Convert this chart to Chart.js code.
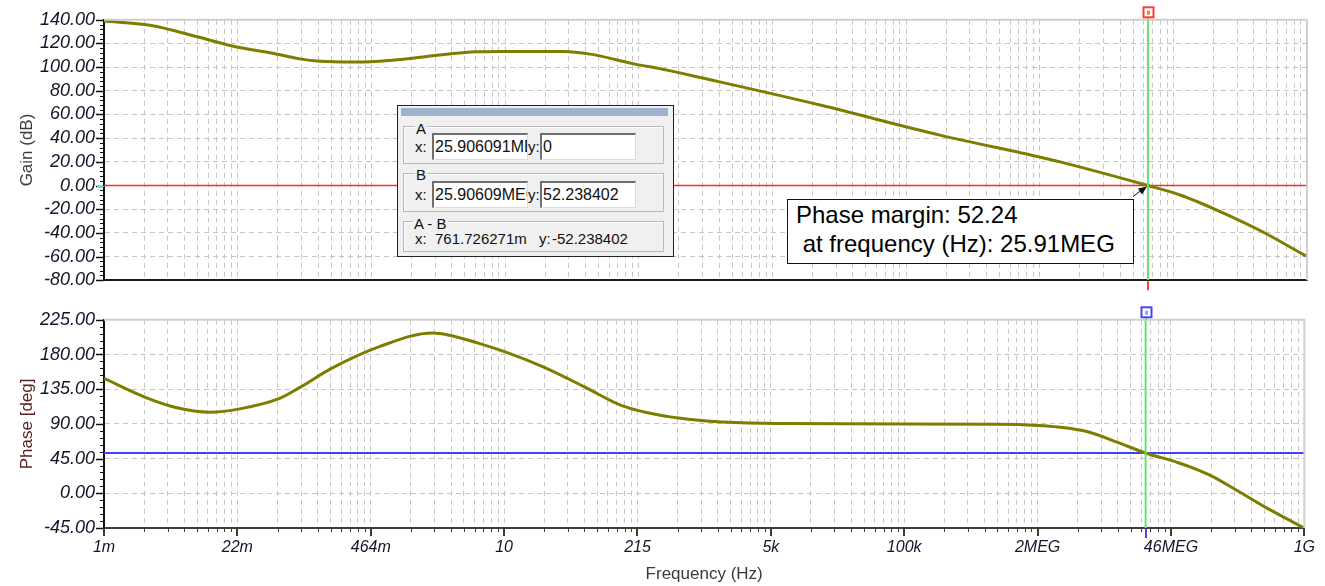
<!DOCTYPE html>
<html>
<head>
<meta charset="utf-8">
<script src="https://cdn.jsdelivr.net/npm/chart.js@4.4.1/dist/chart.umd.min.js"></script>
<style>
body { margin: 0; background: #fff; width: 1325px; height: 586px; overflow: hidden; position: relative; font-family: Arial, 'Liberation Sans', sans-serif; }
#gainWrap { position: absolute; left: 0; top: 0; width: 1325px; height: 300px; }
#phaseWrap { position: absolute; left: 0; top: 300px; width: 1325px; height: 286px; }
#cursorWin { position: absolute; left: 397px; top: 105px; width: 277px; height: 152px; box-sizing: border-box; background: #f0f0f0; border: 1px solid #222; font-size: 15px; color: #111; }
#cursorWin .bar { position: absolute; left: 3px; top: 2px; width: 267px; height: 8px; background: #9db3cf; }
#cursorWin .grp { position: absolute; left: 5px; width: 261px; box-sizing: border-box; border: 1px solid #b9b9b9; box-shadow: inset 1px 1px 0 #fff; }
#cursorWin .cap { position: absolute; line-height: 15px; background: #f0f0f0; padding: 0 1px; }
#cursorWin .lbl { position: absolute; line-height: 15px; }
#cursorWin .fld { position: absolute; width: 96px; height: 27px; box-sizing: border-box; background: #fff; border-style: solid; border-width: 2px 1px 1px 2px; border-color: #6f6f6f #dcdcdc #dcdcdc #6f6f6f; font-size: 16px; line-height: 23px; padding-left: 1px; white-space: nowrap; overflow: hidden; }
#pmBox { position: absolute; left: 787px; top: 199px; width: 347px; height: 65px; box-sizing: border-box; border: 1px solid #111; background: #fff; font-size: 24px; line-height: 29px; padding: 0 0 0 8px; white-space: pre; color: #000; }
</style>
</head>
<body>
<div id="gainWrap"><canvas id="gainChart" width="1325" height="300"></canvas></div>
<div id="phaseWrap"><canvas id="phaseChart" width="1325" height="286"></canvas></div>

<div id="cursorWin">
  <div class="bar"></div>
  <div class="grp" style="top:20px;height:38px"></div>
  <span class="cap" style="left:17px;top:15px">A</span>
  <span class="lbl" style="left:17px;top:33px">x:</span>
  <div class="fld" style="left:34px;top:27px">25.906091MEG</div>
  <span class="lbl" style="left:130px;top:33px">y:</span>
  <div class="fld" style="left:142px;top:27px">0</div>

  <div class="grp" style="top:67px;height:39px"></div>
  <span class="cap" style="left:17px;top:61px">B</span>
  <span class="lbl" style="left:17px;top:81px">x:</span>
  <div class="fld" style="left:34px;top:75px">25.90609MEG</div>
  <span class="lbl" style="left:130px;top:81px">y:</span>
  <div class="fld" style="left:142px;top:75px">52.238402</div>

  <div class="grp" style="top:115px;height:31px"></div>
  <span class="cap" style="left:15px;top:110px">A - B</span>
  <span class="lbl" style="left:17px;top:125px">x:</span>
  <span class="lbl" style="left:37px;top:125px">761.726271m</span>
  <span class="lbl" style="left:141px;top:125px">y:</span>
  <span class="lbl" style="left:154px;top:125px">-52.238402</span>
</div>

<div id="pmBox">Phase margin: 52.24
 at frequency (Hz): 25.91MEG</div>

<script>
// frequency sweep 1 mHz .. 1 GHz
const gainFreq = [1e-3, 2.88e-3, 9.1e-3, 0.0181, 0.057, 0.09, 0.143, 0.284, 0.384, 0.9, 1.91, 5.26, 10, 37.9, 70.5, 189, 413, 881, 1.39e4, 2.18e5, 2.17e6, 3.44e6, 2.59e7, 5.41e7, 1.36e8, 3.4e8, 1e9];
const gainDb = [139, 135.4, 125, 118.3, 110.5, 107, 105, 104.3, 104.4, 106.5, 109.7, 113, 113.3, 113.2, 111, 103, 97.5, 91.3, 68, 42.6, 24, 20, 0, -8, -22, -38, -60];

const phaseFreq = [1e-3, 2.88e-3, 5.1e-3, 0.0114, 0.0228, 0.057, 0.09, 0.192, 0.567, 1.91, 5.6, 23.9, 65.8, 150, 557, 5.53e3, 8.66e5, 2.17e6, 3.44e6, 6.84e6, 1.36e7, 2.59e7, 5.41e7, 8.0e7, 1.2e8, 2.15e8, 4.28e8, 1e9];
const phaseDeg = [149, 122, 111.6, 105.2, 109.5, 123, 137, 162.6, 190.2, 208, 194.4, 164.7, 137, 113.8, 97.6, 90.4, 89.5, 88, 86, 79.8, 66, 52.24, 40, 32, 22, 3.3, -19.6, -45];

const freqLabels = ['1m', '22m', '464m', '10', '215', '5k', '100k', '2MEG', '46MEG', '1G'];

const cursorFreq = 25.906091e6;
const phaseMargin = 52.238402;

// major divisions are 4/3 decade wide, minor lines at log(2..9) of each division
const freqTicks = [];
freqLabels.forEach((lab, i) => {
    const base = Math.pow(10, -3 + i * 4 / 3);
    freqTicks.push({ value: base, label: lab, major: true });
    if (i < freqLabels.length - 1) {
        for (let k = 2; k <= 9; k++) {
            freqTicks.push({ value: base * Math.pow(k, 4 / 3), label: '', major: false });
        }
    }
});

const FONT = "Arial, 'Liberation Sans', sans-serif";
const gridColor = '#c6c6c6';
const gridDash = [5, 4];
const curveColor = '#7d7d00';

function toPoints(xs, ys) {
    return xs.map((x, i) => ({ x: x, y: ys[i] }));
}

// ----------------------
// Axis decoration plugin
// ----------------------
const panelDecor = {
    id: 'panelDecor',
    afterDraw(chart, args, opts) {
        const { ctx, chartArea: a } = chart;
        const x = chart.scales.x, y = chart.scales.y;
        ctx.save();

        // light frame on top and right
        ctx.strokeStyle = '#cfcfcf';
        ctx.lineWidth = 2;
        ctx.beginPath();
        ctx.moveTo(a.left, a.top);
        ctx.lineTo(a.right, a.top);
        ctx.lineTo(a.right, a.bottom);
        ctx.stroke();

        // left axis ticks
        ctx.strokeStyle = '#111';
        const nMinor = Math.round((y.max - y.min) / opts.minorStep);
        for (let i = 0; i <= nMinor; i++) {
            const v = y.min + i * opts.minorStep;
            const py = Math.round(y.getPixelForValue(v)) + 0.5;
            const major = (i % opts.minorPerMajor) === 0;
            ctx.lineWidth = major ? 1.5 : 1;
            ctx.beginPath();
            ctx.moveTo(a.left - (major ? 8 : 4), py);
            ctx.lineTo(a.left - 1, py);
            ctx.stroke();
        }

        // bottom axis ticks
        if (opts.bottomTicks) {
            ctx.strokeStyle = '#3c3c3c';
            freqTicks.forEach(t => {
                const px = Math.round(x.getPixelForValue(t.value)) + (t.major ? 0 : 0.5);
                ctx.lineWidth = t.major ? 2 : 1;
                ctx.beginPath();
                ctx.moveTo(px, a.bottom);
                ctx.lineTo(px, a.bottom + (t.major ? 8 : 4));
                ctx.stroke();
            });
        }

        // cursor marker above, tick below
        const cx = Math.round(x.getPixelForValue(cursorFreq));
        ctx.strokeStyle = '#66e466';
        ctx.lineWidth = 2;
        ctx.beginPath();
        ctx.moveTo(cx, a.top - 3);
        ctx.lineTo(cx, a.top);
        ctx.stroke();

        ctx.strokeStyle = opts.cursorColor;
        ctx.lineWidth = 2;
        ctx.strokeRect(cx - 4.5, a.top - 12.5, 10, 10);
        ctx.fillStyle = opts.cursorFill;
        ctx.fillRect(cx - 1, a.top - 9, 3, 4);
        ctx.beginPath();
        ctx.moveTo(cx, a.bottom + 1);
        ctx.lineTo(cx, a.bottom + 10);
        ctx.stroke();

        if (opts.zeroMark) {
            const py = Math.round(y.getPixelForValue(0)) + 0.5;
            ctx.strokeStyle = '#3fe0e8';
            ctx.lineWidth = 1;
            ctx.beginPath();
            ctx.moveTo(a.left - 7, py);
            ctx.lineTo(a.left, py);
            ctx.stroke();

            // arrow from annotation box to the crossover point
            const ty = y.getPixelForValue(0);
            ctx.strokeStyle = '#111';
            ctx.fillStyle = '#111';
            ctx.lineWidth = 1;
            ctx.beginPath();
            ctx.moveTo(cx - 15, ty + 11);
            ctx.lineTo(cx - 3, ty + 2);
            ctx.stroke();
            ctx.beginPath();
            ctx.moveTo(cx - 1, ty + 1);
            ctx.lineTo(cx - 10, ty + 3);
            ctx.lineTo(cx - 6, ty + 9);
            ctx.closePath();
            ctx.fill();
        }
        ctx.restore();
    }
};

function freqAxis(showLabels) {
    return {
        type: 'logarithmic',
        min: 1e-3,
        max: 1e9,
        bounds: 'data',
        afterBuildTicks: s => { s.ticks = freqTicks.map(t => ({ value: t.value })); },
        afterFit: s => { s.height = showLabels ? 58 : 13; },
        grid: { color: gridColor, drawTicks: false, lineWidth: 1 },
        border: { display: true, color: showLabels ? '#3c3c3c' : '#1a1a1a', width: 2, dash: gridDash },
        ticks: {
            display: showLabels,
            autoSkip: false,
            maxRotation: 0,
            padding: 10,
            color: '#14142a',
            font: { family: FONT, size: 16, style: 'italic' },
            callback: (v, i) => freqTicks[i] ? freqTicks[i].label : ''
        },
        title: {
            display: showLabels,
            text: 'Frequency (Hz)',
            color: '#3a3a3a',
            font: { family: FONT, size: 17 },
            padding: { top: 0, bottom: 1 }
        }
    };
}

function levelAxis(min, max, step, title, titleColor) {
    return {
        min: min,
        max: max,
        afterFit: s => { s.width = 104; },
        grid: { color: gridColor, drawTicks: false, lineWidth: 1 },
        border: { display: true, color: '#111', width: 2, dash: gridDash },
        ticks: {
            stepSize: step,
            autoSkip: false,
            padding: 9,
            color: '#14142a',
            font: { family: FONT, size: 18, style: 'italic' },
            callback: v => Number(v).toFixed(2)
        },
        title: {
            display: true,
            text: title,
            color: titleColor,
            font: { family: FONT, size: 17 },
            padding: { top: 17, bottom: 0 }
        }
    };
}

function baseOptions(bottomPad) {
    return {
        responsive: false,
        animation: false,
        devicePixelRatio: 1,
        layout: { padding: { left: 0, right: 18, top: 16, bottom: bottomPad } },
        plugins: { legend: { display: false }, tooltip: { enabled: false } },
        elements: { point: { radius: 0 } }
    };
}

// ----------------------
// Gain panel
// ----------------------
const gainOpts = baseOptions(0);
gainOpts.scales = { x: freqAxis(false), y: levelAxis(-80, 140, 20, 'Gain (dB)', '#3c3c3c') };
gainOpts.plugins.panelDecor = { minorStep: 4, minorPerMajor: 5, bottomTicks: false, cursorColor: '#ff3b3b', cursorFill: '#ff7a3b', zeroMark: true };

new Chart(document.getElementById('gainChart'), {
    type: 'line',
    data: {
        datasets: [
            { data: toPoints(gainFreq, gainDb), borderColor: curveColor, borderWidth: 3, cubicInterpolationMode: 'monotone', order: 1 },
            { data: toPoints([1e-3, 1e9], [0, 0]), borderColor: '#ff2a2a', borderWidth: 1.5, order: 2 },
            { data: toPoints([cursorFreq, cursorFreq], [-80, 140]), borderColor: '#66e466', borderWidth: 2, order: 0 }
        ]
    },
    options: gainOpts,
    plugins: [panelDecor]
});

// ----------------------
// Phase panel
// ----------------------
const phaseOpts = baseOptions(0);
phaseOpts.scales = { x: freqAxis(true), y: levelAxis(-45, 225, 45, 'Phase [deg]', '#5a2222') };
phaseOpts.plugins.panelDecor = { minorStep: 9, minorPerMajor: 5, bottomTicks: true, cursorColor: '#4646ff', cursorFill: '#9a9aff', zeroMark: false };

new Chart(document.getElementById('phaseChart'), {
    type: 'line',
    data: {
        datasets: [
            { data: toPoints(phaseFreq, phaseDeg), borderColor: curveColor, borderWidth: 3, cubicInterpolationMode: 'monotone', order: 1 },
            { data: toPoints([1e-3, 1e9], [phaseMargin, phaseMargin]), borderColor: '#4040ff', borderWidth: 2, order: 2 },
            { data: toPoints([cursorFreq, cursorFreq], [-45, 225]), borderColor: '#66e466', borderWidth: 2, order: 0 }
        ]
    },
    options: phaseOpts,
    plugins: [panelDecor]
});
</script>
</body>
</html>
